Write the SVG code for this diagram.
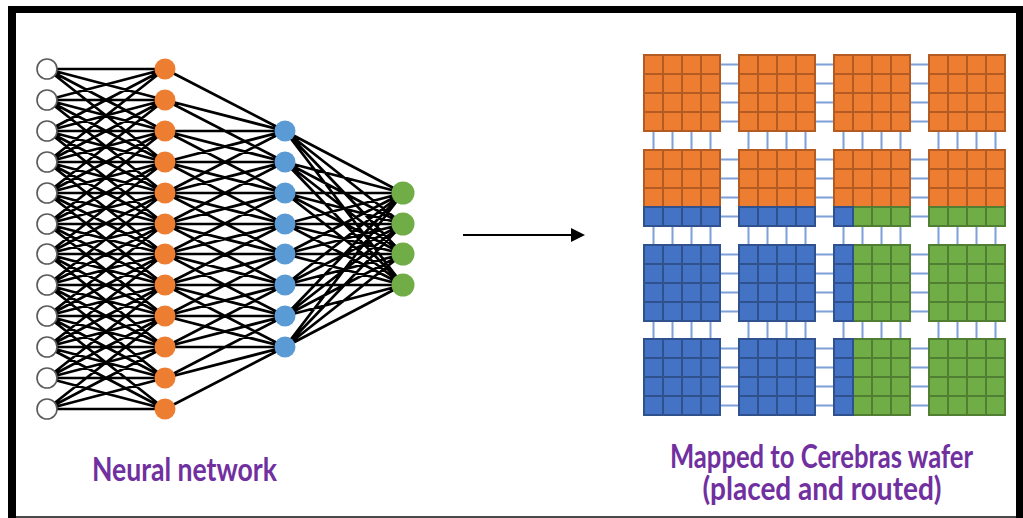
<svg xmlns="http://www.w3.org/2000/svg" xmlns:xlink="http://www.w3.org/1999/xlink" width="1023" height="518" viewBox="0 0 1023 518">
  <style>
    .edge { stroke: #000; stroke-width: 2.7; fill: none; stroke-linecap: round; }
    .link { stroke: #7f9fd8; stroke-width: 2; fill: none; }
    .in { fill: #fff; stroke: #5a5a5a; stroke-width: 1.6; }
    .hid1 { fill: #ed7d31; }
    .hid2 { fill: #5b9bd5; }
    .out { fill: #70ad47; }
    .o { fill: #ed7d31; stroke: #b35b22; stroke-width: 2; }
    .b { fill: #4472c4; stroke: #2f528f; stroke-width: 2; }
    .g { fill: #70ad47; stroke: #507e32; stroke-width: 2; }
    .label { font-family: Lato, "Open Sans", "Liberation Sans", sans-serif; font-size: 33px; font-weight: bold; fill: #7030a0; }
  </style>
  <defs>
    <!-- one row of four cores -->
    <g id="row-o"><rect class="o" x="1" y="1" width="19" height="19"/><rect class="o" x="20" y="1" width="19" height="19"/><rect class="o" x="39" y="1" width="19" height="19"/><rect class="o" x="58" y="1" width="19" height="19"/></g>
    <g id="row-b"><rect class="b" x="1" y="1" width="19" height="19"/><rect class="b" x="20" y="1" width="19" height="19"/><rect class="b" x="39" y="1" width="19" height="19"/><rect class="b" x="58" y="1" width="19" height="19"/></g>
    <g id="row-g"><rect class="g" x="1" y="1" width="19" height="19"/><rect class="g" x="20" y="1" width="19" height="19"/><rect class="g" x="39" y="1" width="19" height="19"/><rect class="g" x="58" y="1" width="19" height="19"/></g>
    <g id="row-bg"><rect class="g" x="20" y="1" width="19" height="19"/><rect class="g" x="39" y="1" width="19" height="19"/><rect class="g" x="58" y="1" width="19" height="19"/><rect class="b" x="1" y="1" width="19" height="19"/></g>
    <!-- 4x4 tiles -->
    <g id="blk-o"><use href="#row-o"/><use href="#row-o" y="19"/><use href="#row-o" y="38"/><use href="#row-o" y="57"/></g>
    <g id="blk-ob"><use href="#row-o"/><use href="#row-o" y="19"/><use href="#row-o" y="38"/><use href="#row-b" y="57"/></g>
    <g id="blk-obg"><use href="#row-o"/><use href="#row-o" y="19"/><use href="#row-o" y="38"/><use href="#row-bg" y="57"/></g>
    <g id="blk-og"><use href="#row-o"/><use href="#row-o" y="19"/><use href="#row-o" y="38"/><use href="#row-g" y="57"/></g>
    <g id="blk-b"><use href="#row-b"/><use href="#row-b" y="19"/><use href="#row-b" y="38"/><use href="#row-b" y="57"/></g>
    <g id="blk-bg"><use href="#row-bg"/><use href="#row-bg" y="19"/><use href="#row-bg" y="38"/><use href="#row-bg" y="57"/></g>
    <g id="blk-g"><use href="#row-g"/><use href="#row-g" y="19"/><use href="#row-g" y="38"/><use href="#row-g" y="57"/></g>
  </defs>

  <rect width="1023" height="518" fill="#fff"/>
  <!-- frame -->
  <g id="frame">
    <rect x="8" y="6" width="1015" height="7" fill="#000"/>
    <rect x="8" y="6" width="8" height="512" fill="#000"/>
    <rect x="1016" y="6" width="7" height="512" fill="#000"/>
    <rect x="16" y="516" width="1000" height="2" fill="#4a4a4a"/>
  </g>

  <g id="connectors">
    <!-- input layer to first hidden layer -->
    <path class="edge" d="M47 69L165 69M47 69L165 100M47 69L165 131M47 69L165 162
      M47 100L165 69M47 100L165 100M47 100L165 131M47 100L165 162M47 100L165 193
      M47 131L165 69M47 131L165 100M47 131L165 131M47 131L165 162M47 131L165 193M47 131L165 224
      M47 162L165 69M47 162L165 100M47 162L165 131M47 162L165 162M47 162L165 193M47 162L165 224M47 162L165 254
      M47 193L165 100M47 193L165 131M47 193L165 162M47 193L165 193M47 193L165 224M47 193L165 254M47 193L165 285
      M47 224L165 131M47 224L165 162M47 224L165 193M47 224L165 224M47 224L165 254M47 224L165 285M47 224L165 316
      M47 254L165 162M47 254L165 193M47 254L165 224M47 254L165 254M47 254L165 285M47 254L165 316M47 254L165 347
      M47 285L165 193M47 285L165 224M47 285L165 254M47 285L165 285M47 285L165 316M47 285L165 347M47 285L165 378
      M47 316L165 224M47 316L165 254M47 316L165 285M47 316L165 316M47 316L165 347M47 316L165 378M47 316L165 409
      M47 347L165 254M47 347L165 285M47 347L165 316M47 347L165 347M47 347L165 378M47 347L165 409
      M47 378L165 285M47 378L165 316M47 378L165 347M47 378L165 378M47 378L165 409
      M47 409L165 316M47 409L165 347M47 409L165 378M47 409L165 409"/>
    <!-- first hidden layer to second hidden layer -->
    <path class="edge" d="M165 69L285 131M165 100L285 131M165 131L285 131M165 162L285 131M165 193L285 131
      M165 100L285 162M165 131L285 162M165 162L285 162M165 193L285 162M165 224L285 162
      M165 131L285 193M165 162L285 193M165 193L285 193M165 224L285 193M165 254L285 193
      M165 162L285 224M165 193L285 224M165 224L285 224M165 254L285 224M165 285L285 224
      M165 193L285 254M165 224L285 254M165 254L285 254M165 285L285 254M165 316L285 254
      M165 224L285 285M165 254L285 285M165 285L285 285M165 316L285 285M165 347L285 285
      M165 254L285 316M165 285L285 316M165 316L285 316M165 347L285 316M165 378L285 316
      M165 285L285 347M165 316L285 347M165 347L285 347M165 378L285 347M165 409L285 347"/>
    <!-- second hidden layer to outputs -->
    <path class="edge" d="M285 131L403 193M285 131L403 224M285 131L403 254M285 131L403 285
      M285 162L403 193M285 162L403 224M285 162L403 254M285 162L403 285
      M285 193L403 193M285 193L403 224M285 193L403 254M285 193L403 285
      M285 224L403 193M285 224L403 224M285 224L403 254M285 224L403 285
      M285 254L403 193M285 254L403 224M285 254L403 254M285 254L403 285
      M285 285L403 193M285 285L403 224M285 285L403 254M285 285L403 285
      M285 316L403 193M285 316L403 224M285 316L403 254M285 316L403 285
      M285 347L403 193M285 347L403 224M285 347L403 254M285 347L403 285"/>

    <!-- mapping arrow -->
    <line x1="463" y1="235" x2="574" y2="235" stroke="#000" stroke-width="2"/>
    <polygon points="571,228 585,235 571,242" fill="#000"/>

    <!-- fabric links between tiles: horizontal -->
    <path class="link" d="M721 64.5h17m78 0h17m78 0h17M721 83.5h17m78 0h17m78 0h17M721 102.5h17m78 0h17m78 0h17M721 121.5h17m78 0h17m78 0h17
      M721 159.5h17m78 0h17m78 0h17M721 178.5h17m78 0h17m78 0h17M721 197.5h17m78 0h17m78 0h17M721 216.5h17m78 0h17m78 0h17
      M721 254.5h17m78 0h17m78 0h17M721 273.5h17m78 0h17m78 0h17M721 292.5h17m78 0h17m78 0h17M721 311.5h17m78 0h17m78 0h17
      M721 348.5h17m78 0h17m78 0h17M721 367.5h17m78 0h17m78 0h17M721 386.5h17m78 0h17m78 0h17M721 405.5h17m78 0h17m78 0h17"/>
    <!-- fabric links between tiles: vertical -->
    <path class="link" d="M653.5 132v17m0 78v17m0 78v16M672.5 132v17m0 78v17m0 78v16M691.5 132v17m0 78v17m0 78v16M710.5 132v17m0 78v17m0 78v16
      M748.5 132v17m0 78v17m0 78v16M767.5 132v17m0 78v17m0 78v16M786.5 132v17m0 78v17m0 78v16M805.5 132v17m0 78v17m0 78v16
      M843.5 132v17m0 78v17m0 78v16M862.5 132v17m0 78v17m0 78v16M881.5 132v17m0 78v17m0 78v16M900.5 132v17m0 78v17m0 78v16
      M938.5 132v17m0 78v17m0 78v16M957.5 132v17m0 78v17m0 78v16M976.5 132v17m0 78v17m0 78v16M995.5 132v17m0 78v17m0 78v16"/>
  </g>

  <!-- input layer -->
  <g id="in-0"><circle class="in" cx="47" cy="69" r="10"/></g>
  <g id="in-1"><circle class="in" cx="47" cy="100" r="10"/></g>
  <g id="in-2"><circle class="in" cx="47" cy="131" r="10"/></g>
  <g id="in-3"><circle class="in" cx="47" cy="162" r="10"/></g>
  <g id="in-4"><circle class="in" cx="47" cy="193" r="10"/></g>
  <g id="in-5"><circle class="in" cx="47" cy="224" r="10"/></g>
  <g id="in-6"><circle class="in" cx="47" cy="254" r="10"/></g>
  <g id="in-7"><circle class="in" cx="47" cy="285" r="10"/></g>
  <g id="in-8"><circle class="in" cx="47" cy="316" r="10"/></g>
  <g id="in-9"><circle class="in" cx="47" cy="347" r="10"/></g>
  <g id="in-10"><circle class="in" cx="47" cy="378" r="10"/></g>
  <g id="in-11"><circle class="in" cx="47" cy="409" r="10"/></g>

  <!-- first hidden layer -->
  <g id="h1-0"><circle class="hid1" cx="165" cy="69" r="10.5"/></g>
  <g id="h1-1"><circle class="hid1" cx="165" cy="100" r="10.5"/></g>
  <g id="h1-2"><circle class="hid1" cx="165" cy="131" r="10.5"/></g>
  <g id="h1-3"><circle class="hid1" cx="165" cy="162" r="10.5"/></g>
  <g id="h1-4"><circle class="hid1" cx="165" cy="193" r="10.5"/></g>
  <g id="h1-5"><circle class="hid1" cx="165" cy="224" r="10.5"/></g>
  <g id="h1-6"><circle class="hid1" cx="165" cy="254" r="10.5"/></g>
  <g id="h1-7"><circle class="hid1" cx="165" cy="285" r="10.5"/></g>
  <g id="h1-8"><circle class="hid1" cx="165" cy="316" r="10.5"/></g>
  <g id="h1-9"><circle class="hid1" cx="165" cy="347" r="10.5"/></g>
  <g id="h1-10"><circle class="hid1" cx="165" cy="378" r="10.5"/></g>
  <g id="h1-11"><circle class="hid1" cx="165" cy="409" r="10.5"/></g>

  <!-- second hidden layer -->
  <g id="h2-0"><circle class="hid2" cx="285" cy="131" r="10.5"/></g>
  <g id="h2-1"><circle class="hid2" cx="285" cy="162" r="10.5"/></g>
  <g id="h2-2"><circle class="hid2" cx="285" cy="193" r="10.5"/></g>
  <g id="h2-3"><circle class="hid2" cx="285" cy="224" r="10.5"/></g>
  <g id="h2-4"><circle class="hid2" cx="285" cy="254" r="10.5"/></g>
  <g id="h2-5"><circle class="hid2" cx="285" cy="285" r="10.5"/></g>
  <g id="h2-6"><circle class="hid2" cx="285" cy="316" r="10.5"/></g>
  <g id="h2-7"><circle class="hid2" cx="285" cy="347" r="10.5"/></g>

  <!-- output layer -->
  <g id="out-0"><circle class="out" cx="403" cy="193" r="11.5"/></g>
  <g id="out-1"><circle class="out" cx="403" cy="224" r="11.5"/></g>
  <g id="out-2"><circle class="out" cx="403" cy="254" r="11.5"/></g>
  <g id="out-3"><circle class="out" cx="403" cy="285" r="11.5"/></g>

  <!-- wafer tiles -->
  <g id="tile-r0c0"><use href="#blk-o" x="643" y="54"/></g>
  <g id="tile-r0c1"><use href="#blk-o" x="738" y="54"/></g>
  <g id="tile-r0c2"><use href="#blk-o" x="833" y="54"/></g>
  <g id="tile-r0c3"><use href="#blk-o" x="928" y="54"/></g>
  <g id="tile-r1c0"><use href="#blk-ob" x="643" y="149"/></g>
  <g id="tile-r1c1"><use href="#blk-ob" x="738" y="149"/></g>
  <g id="tile-r1c2"><use href="#blk-obg" x="833" y="149"/></g>
  <g id="tile-r1c3"><use href="#blk-og" x="928" y="149"/></g>
  <g id="tile-r2c0"><use href="#blk-b" x="643" y="244"/></g>
  <g id="tile-r2c1"><use href="#blk-b" x="738" y="244"/></g>
  <g id="tile-r2c2"><use href="#blk-bg" x="833" y="244"/></g>
  <g id="tile-r2c3"><use href="#blk-g" x="928" y="244"/></g>
  <g id="tile-r3c0"><use href="#blk-b" x="643" y="338"/></g>
  <g id="tile-r3c1"><use href="#blk-b" x="738" y="338"/></g>
  <g id="tile-r3c2"><use href="#blk-bg" x="833" y="338"/></g>
  <g id="tile-r3c3"><use href="#blk-g" x="928" y="338"/></g>

  <!-- captions -->
  <g id="caption-network">
    <text class="label" x="184.5" y="481" text-anchor="middle" textLength="185" lengthAdjust="spacingAndGlyphs">Neural network</text>
  </g>
  <g id="caption-wafer">
    <text class="label" x="821.5" y="468" text-anchor="middle" textLength="303" lengthAdjust="spacingAndGlyphs">Mapped to Cerebras wafer</text>
    <text class="label" x="822" y="500" text-anchor="middle" textLength="239" lengthAdjust="spacingAndGlyphs">(placed and routed)</text>
  </g>
</svg>
